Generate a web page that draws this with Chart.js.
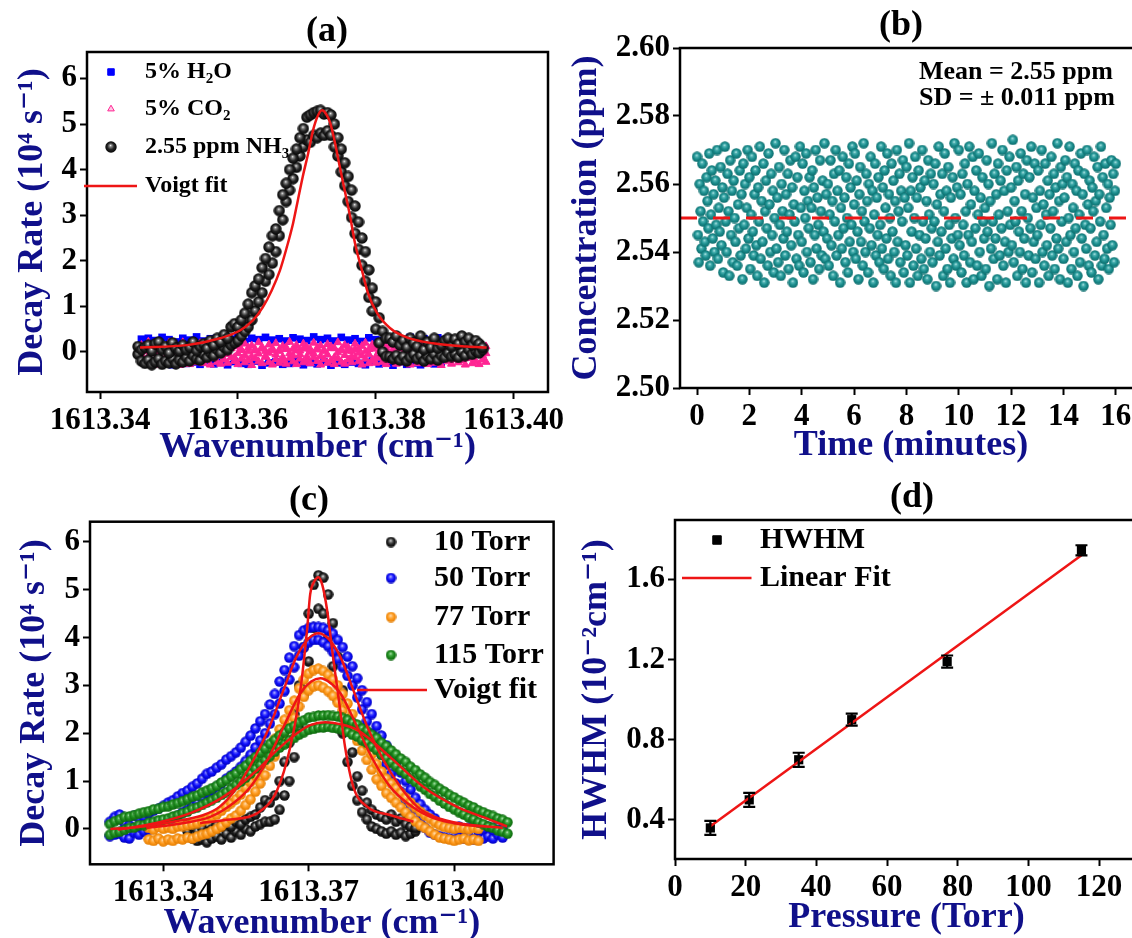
<!DOCTYPE html>
<html>
<head>
<meta charset="utf-8">
<script src="https://cdn.jsdelivr.net/npm/chart.js@4.4.1/dist/chart.umd.min.js"></script>
<style>
  html, body { margin: 0; padding: 0; background: #fff; width: 1132px; height: 938px; overflow: hidden; }
  .panel { position: absolute; }
  canvas { display: block; }
</style>
</head>
<body>
<div class="panel" style="left:0;top:0"><canvas id="chartA" width="566" height="469"></canvas></div>
<div class="panel" style="left:560px;top:0"><canvas id="chartB" width="582" height="469"></canvas></div>
<div class="panel" style="left:0;top:469px"><canvas id="chartC" width="566" height="490"></canvas></div>
<div class="panel" style="left:560px;top:469px"><canvas id="chartD" width="578" height="490"></canvas></div>
<script>
// ---------- (a) NH3 line vs. H2O / CO2 background ----------
const wnA = [
  1613.3455,1613.3460,1613.3465,1613.3470,1613.3475,1613.3480,1613.3485,1613.3490,1613.3495,1613.3500,
  1613.3505,1613.3510,1613.3515,1613.3520,1613.3525,1613.3530,1613.3535,1613.3540,1613.3545,1613.3550,
  1613.3555,1613.3560,1613.3565,1613.3570,1613.3575,1613.3580,1613.3585,1613.3590,1613.3595,1613.3600,
  1613.3605,1613.3610,1613.3615,1613.3620,1613.3625,1613.3630,1613.3635,1613.3640,1613.3645,1613.3650,
  1613.3655,1613.3660,1613.3665,1613.3670,1613.3675,1613.3680,1613.3685,1613.3690,1613.3695,1613.3700,
  1613.3705,1613.3710,1613.3715,1613.3720,1613.3725,1613.3730,1613.3735,1613.3740,1613.3745,1613.3750,
  1613.3755,1613.3760,1613.3765,1613.3770,1613.3775,1613.3780,1613.3785,1613.3790,1613.3795,1613.3800,
  1613.3805,1613.3810,1613.3815,1613.3820,1613.3825,1613.3830,1613.3835,1613.3840,1613.3845,1613.3850,
  1613.3855,1613.3860,1613.3865,1613.3870,1613.3875,1613.3880,1613.3885,1613.3890,1613.3895,1613.3900,
  1613.3905,1613.3910,1613.3915,1613.3920,1613.3925,1613.3930,1613.3935,1613.3940,1613.3945,1613.3950,
  1613.3955,1613.3960
];
// NH3 decay rate (1e4 s^-1), lower and upper edge of the scattered band
const nh3Lo = [
  -0.05,-0.20,-0.25,-0.18,-0.28,-0.22,-0.15,-0.27,-0.20,-0.24,
  -0.15,-0.26,-0.18,-0.22,-0.12,-0.20,-0.08,-0.15,-0.18,-0.05,
  -0.12,-0.02,-0.08,0.05,-0.02,0.10,0.05,0.15,0.20,0.25,
  0.35,0.45,0.55,0.70,0.90,1.10,1.30,1.55,1.70,1.95,
  2.20,2.55,2.90,3.30,3.55,3.80,4.05,4.30,4.50,4.65,
  4.60,4.75,4.70,4.80,4.75,4.85,4.75,4.50,4.30,3.95,
  3.65,3.30,2.95,2.60,2.25,1.90,1.55,1.20,0.90,0.50,
  0.20,0.00,-0.10,-0.10,-0.15,-0.08,-0.18,-0.10,-0.20,-0.12,
  -0.05,-0.15,-0.08,-0.20,-0.10,-0.15,-0.05,-0.18,-0.08,-0.12,
  -0.02,-0.10,-0.05,-0.12,0.00,-0.08,0.05,-0.05,0.02,-0.02,
  0.05,null
];
const nh3Hi = [
  0.12,0.05,0.10,0.15,0.02,0.18,0.22,0.05,0.12,-0.02,
  0.20,0.08,0.02,0.15,0.05,0.10,0.22,0.03,0.12,0.18,
  0.08,0.25,0.15,0.30,0.22,0.38,0.30,0.55,0.62,0.55,
  0.70,0.85,1.05,1.30,1.45,1.60,1.85,2.05,2.30,2.55,
  2.70,3.10,3.45,3.70,4.00,4.25,4.45,4.70,4.90,5.15,
  5.20,5.25,5.28,5.30,5.22,5.25,5.20,5.00,4.70,4.45,
  4.15,3.85,3.55,3.20,2.85,2.50,2.20,1.80,1.40,1.10,
  0.75,0.45,0.30,0.30,0.22,0.35,0.15,0.25,0.10,0.30,
  0.20,0.12,0.35,0.05,0.22,0.10,0.30,0.08,0.15,0.25,
  0.30,0.12,0.28,0.18,0.35,0.22,0.30,0.15,0.25,0.18,
  0.10,null
];
const co2Lo = [
  null,-0.18,-0.25,-0.12,-0.22,-0.28,-0.15,-0.20,-0.26,-0.10,
  -0.24,-0.18,-0.29,-0.14,-0.21,-0.27,-0.16,-0.23,-0.11,-0.25,
  -0.19,-0.28,-0.13,-0.22,-0.26,-0.17,-0.24,-0.12,-0.20,-0.27,
  -0.15,-0.23,-0.18,-0.29,-0.14,-0.21,-0.25,-0.11,-0.22,-0.28,
  -0.16,-0.24,-0.19,-0.26,-0.13,-0.21,-0.27,-0.15,-0.23,-0.18,
  -0.25,-0.12,-0.20,-0.28,-0.16,-0.24,-0.19,-0.27,-0.14,-0.22,
  -0.26,-0.17,-0.23,-0.12,-0.21,-0.28,-0.15,-0.25,-0.18,-0.24,
  -0.13,-0.22,-0.27,-0.16,-0.20,-0.26,-0.14,-0.23,-0.19,-0.28,
  -0.12,-0.25,-0.17,-0.22,-0.27,-0.15,-0.24,-0.18,-0.29,-0.13,
  -0.21,-0.26,-0.16,-0.23,-0.19,-0.28,-0.14,-0.25,-0.20,-0.27,
  -0.17,-0.22
];
const co2Mid = [
  null,-0.05,0.02,-0.10,0.06,-0.03,-0.08,0.04,-0.12,0.00,
  -0.06,0.05,-0.09,0.01,-0.04,0.07,-0.11,-0.02,0.03,-0.07,
  0.06,-0.10,-0.01,0.04,-0.08,0.02,-0.05,0.08,-0.12,-0.03,
  0.05,-0.07,0.01,-0.10,0.03,-0.04,0.07,-0.09,-0.02,0.04,
  -0.06,0.02,-0.11,0.06,-0.03,-0.08,0.03,-0.05,0.07,-0.10,
  0.00,-0.04,0.05,-0.09,0.02,-0.06,0.08,-0.12,-0.01,0.04,
  -0.07,0.03,-0.10,0.06,-0.02,-0.08,0.01,-0.05,0.07,-0.11,
  0.02,-0.04,0.05,-0.09,0.00,-0.06,0.08,-0.03,-0.10,0.04,
  -0.07,0.01,-0.12,0.05,-0.02,-0.08,0.03,-0.05,0.06,-0.10,
  0.00,-0.04,0.07,-0.09,0.02,-0.06,0.04,-0.11,-0.01,0.03,
  -0.07,-0.03
];
const co2Hi = [
  null,0.15,0.05,0.22,0.10,0.02,0.18,0.08,0.12,0.20,
  0.04,0.14,0.09,0.21,0.06,0.16,0.11,0.03,0.19,0.07,
  0.13,0.22,0.05,0.17,0.10,0.01,0.15,0.08,0.20,0.12,
  0.04,0.18,0.09,0.14,0.06,0.21,0.11,0.02,0.16,0.08,
  0.19,0.05,0.13,0.10,0.22,0.07,0.15,0.03,0.18,0.11,
  0.06,0.20,0.09,0.14,0.04,0.17,0.12,0.08,0.21,0.05,
  0.15,0.10,0.02,0.18,0.07,0.13,0.20,0.06,0.16,0.11,
  0.03,0.19,0.09,0.14,0.05,0.17,0.12,0.08,0.21,0.04,
  0.15,0.10,0.18,0.06,0.13,0.02,0.16,0.09,0.20,0.07,
  0.12,0.04,0.17,0.11,0.05,0.14,0.08,0.19,0.03,0.10,
  0.06,0.12
];
const h2oVal = [
  null,0.28,-0.22,0.30,-0.26,0.25,-0.18,0.32,-0.24,0.27,
  -0.28,0.22,-0.20,0.30,-0.25,0.26,-0.22,0.33,-0.27,0.24,
  -0.19,0.29,-0.26,0.31,-0.23,0.25,-0.28,0.28,-0.21,0.34,
  -0.25,0.23,-0.27,0.30,-0.20,0.27,-0.29,0.32,-0.24,0.26,
  -0.22,0.29,-0.27,0.24,-0.25,0.31,-0.20,0.28,-0.28,0.25,
  -0.23,0.33,-0.26,0.27,-0.21,0.30,-0.29,0.24,-0.24,0.32,
  -0.27,0.26,-0.22,0.29,-0.25,0.23,-0.28,0.31,-0.20,0.27,
  -0.26,0.25,-0.23,0.30,-0.29,0.28,-0.21,0.24,-0.27,0.32,
  -0.24,0.26,-0.28,0.29,-0.22,0.25,-0.26,0.31,-0.23,0.27,
  null,null,null,null,null,null,null,null,null,null,
  null,null
];
const fitAW = [1613.3458,1613.3526,1613.3574,1613.3603,1613.3622,1613.3636,1613.3649,1613.3661,1613.3671,1613.3680,
  1613.3687,1613.3694,1613.3702,1613.3709,1613.3716,1613.3722,1613.3728,1613.3734,1613.3741,1613.3748,
  1613.3755,1613.3763,1613.3770,1613.3780,1613.3789,1613.3802,1613.3821,1613.3845,1613.3883,1613.3932,1613.3961];
const fitAV = [0.10,0.15,0.30,0.47,0.70,0.98,1.35,1.79,2.30,2.82,
  3.33,3.84,4.36,4.86,5.18,5.30,5.22,5.02,4.58,4.05,
  3.54,2.96,2.38,1.79,1.28,0.85,0.52,0.32,0.19,0.12,0.10];
const aXTicks = [1613.34, 1613.36, 1613.38, 1613.40];
const aYTicks = [0, 1, 2, 3, 4, 5, 6];

// ---------- (b) concentration over time ----------
const timeSec = [
  0,2,4,6,8,10,12,14,16,18,20,22,24,26,28,30,32,34,36,38,40,42,44,46,48,50,52,54,56,58,
  60,62,64,66,68,70,72,74,76,78,80,82,84,86,88,90,92,94,96,98,100,102,104,106,108,110,112,114,116,118,
  120,122,124,126,128,130,132,134,136,138,140,142,144,146,148,150,152,154,156,158,160,162,164,166,168,170,172,174,176,178,
  180,182,184,186,188,190,192,194,196,198,200,202,204,206,208,210,212,214,216,218,220,222,224,226,228,230,232,234,236,238,
  240,242,244,246,248,250,252,254,256,258,260,262,264,266,268,270,272,274,276,278,280,282,284,286,288,290,292,294,296,298,
  300,302,304,306,308,310,312,314,316,318,320,322,324,326,328,330,332,334,336,338,340,342,344,346,348,350,352,354,356,358,
  360,362,364,366,368,370,372,374,376,378,380,382,384,386,388,390,392,394,396,398,400,402,404,406,408,410,412,414,416,418,
  420,422,424,426,428,430,432,434,436,438,440,442,444,446,448,450,452,454,456,458,460,462,464,466,468,470,472,474,476,478,
  480,482,484,486,488,490,492,494,496,498,500,502,504,506,508,510,512,514,516,518,520,522,524,526,528,530,532,534,536,538,
  540,542,544,546,548,550,552,554,556,558,560,562,564,566,568,570,572,574,576,578,580,582,584,586,588,590,592,594,596,598,
  600,602,604,606,608,610,612,614,616,618,620,622,624,626,628,630,632,634,636,638,640,642,644,646,648,650,652,654,656,658,
  660,662,664,666,668,670,672,674,676,678,680,682,684,686,688,690,692,694,696,698,700,702,704,706,708,710,712,714,716,718,
  720,722,724,726,728,730,732,734,736,738,740,742,744,746,748,750,752,754,756,758,760,762,764,766,768,770,772,774,776,778,
  780,782,784,786,788,790,792,794,796,798,800,802,804,806,808,810,812,814,816,818,820,822,824,826,828,830,832,834,836,838,
  840,842,844,846,848,850,852,854,856,858,860,862,864,866,868,870,872,874,876,878,880,882,884,886,888,890,892,894,896,898,
  900,902,904,906,908,910,912,914,916,918,920,922,924,926,928,930,932,934,936,938,940,942,944,946,948,950,952,954,956,958,
  960
];
// NH3 concentration in ppb
const concPpb = [
  2568,2545,2537,2560,2552,2541,2566,2549,2558,2543,2539,2562,2555,2547,2569,2536,2551,2564,2544,2557,2540,2561,2548,2570,2538,2553,2546,2565,2542,2559,
  2534,2556,2571,2549,2540,2563,2552,2533,2567,2545,2558,2537,2561,2550,2543,2569,2536,2554,2547,2564,2539,2557,2532,2566,2548,2560,2541,2553,2570,2544,
  2562,2535,2551,2568,2546,2539,2557,2564,2542,2533,2559,2549,2571,2538,2555,2543,2566,2531,2552,2561,2547,2536,2569,2554,2540,2563,2545,2558,2534,2550,
  2572,2541,2556,2537,2565,2548,2533,2560,2552,2544,2570,2539,2557,2546,2563,2535,2551,2567,2542,2559,2531,2554,2549,2568,2538,2562,2545,2536,2571,2553,
  2543,2566,2534,2558,2550,2569,2540,2555,2547,2562,2537,2553,2564,2532,2559,2545,2570,2541,2556,2548,2535,2567,2552,2539,2561,2546,2572,2538,2557,2544,
  2560,2536,2551,2567,2542,2555,2533,2563,2549,2570,2539,2558,2545,2564,2531,2553,2541,2568,2547,2556,2537,2562,2550,2534,2566,2543,2559,2548,2571,2540,
  2554,2569,2538,2561,2546,2532,2557,2565,2543,2552,2536,2572,2549,2540,2563,2555,2534,2560,2547,2568,2542,2558,2531,2551,2566,2539,2556,2545,2562,2537,
  2548,2571,2541,2559,2535,2564,2553,2544,2569,2538,2557,2550,2533,2566,2546,2561,2540,2555,2531,2570,2543,2552,2563,2537,2558,2549,2567,2534,2556,2542,
  2565,2539,2553,2572,2531,2558,2546,2562,2536,2550,2568,2541,2556,2533,2564,2545,2559,2538,2570,2549,2535,2561,2544,2555,2532,2567,2551,2540,2563,2547,
  2537,2560,2549,2566,2530,2554,2543,2571,2539,2557,2546,2563,2533,2552,2569,2541,2558,2535,2565,2548,2531,2556,2544,2562,2538,2572,2550,2536,2559,2545,
  2570,2542,2557,2534,2563,2548,2539,2566,2552,2531,2560,2545,2571,2537,2554,2543,2568,2532,2558,2547,2564,2536,2551,2569,2540,2556,2533,2562,2549,2544,
  2553,2535,2567,2546,2560,2530,2555,2541,2572,2549,2538,2563,2544,2557,2532,2566,2551,2539,2561,2547,2570,2536,2558,2543,2531,2564,2552,2540,2568,2548,
  2559,2542,2573,2537,2555,2549,2565,2533,2561,2546,2540,2569,2552,2535,2563,2544,2557,2531,2567,2550,2539,2562,2547,2571,2534,2556,2543,2566,2538,2553,
  2545,2564,2531,2558,2548,2570,2540,2554,2536,2566,2551,2542,2561,2533,2557,2547,2568,2539,2552,2563,2535,2559,2544,2572,2541,2555,2532,2565,2549,2560,
  2538,2556,2567,2543,2562,2531,2550,2571,2545,2535,2560,2553,2540,2566,2547,2558,2533,2564,2551,2537,2569,2544,2557,2530,2563,2548,2541,2570,2554,2536,
  2561,2547,2534,2559,2552,2568,2539,2555,2543,2565,2532,2557,2549,2571,2536,2562,2545,2538,2566,2553,2541,2560,2535,2556,2548,2567,2542,2563,2537,2558,
  2566
];
const meanPpm = 2.55;
const bXTicks = [0, 2, 4, 6, 8, 10, 12, 14, 16];
const bYTicks = [2.50, 2.52, 2.54, 2.56, 2.58, 2.60];

// ---------- (c) pressure broadening ----------
const wnC = [
  1613.329,1613.330,1613.331,1613.332,1613.333,1613.334,1613.335,1613.336,1613.337,1613.338,
  1613.339,1613.340,1613.341,1613.342,1613.343,1613.344,1613.345,1613.346,1613.347,1613.348,
  1613.349,1613.350,1613.351,1613.352,1613.353,1613.354,1613.355,1613.356,1613.357,1613.358,
  1613.359,1613.360,1613.361,1613.362,1613.363,1613.364,1613.365,1613.366,1613.367,1613.368,
  1613.369,1613.370,1613.371,1613.372,1613.373,1613.374,1613.375,1613.376,1613.377,1613.378,
  1613.379,1613.380,1613.381,1613.382,1613.383,1613.384,1613.385,1613.386,1613.387,1613.388,
  1613.389,1613.390,1613.391,1613.392,1613.393,1613.394,1613.395,1613.396,1613.397,1613.398,
  1613.399,1613.400,1613.401,1613.402,1613.403,1613.404,1613.405,1613.406,1613.407,1613.408,
  1613.409,1613.410,1613.411
];
const lo10 = [
  null,null,null,null,null,null,null,null,null,null,
  null,null,null,null,null,null,-0.05,-0.20,-0.25,-0.22,
  -0.28,-0.20,-0.15,-0.22,-0.10,-0.18,-0.05,-0.12,0.00,-0.05,
  0.05,0.10,0.15,0.15,0.20,0.40,0.70,1.00,1.50,2.10,
  2.80,3.50,4.20,4.60,4.50,4.00,3.40,2.70,2.00,1.40,
  0.90,0.60,0.35,0.20,0.05,0.00,-0.05,-0.10,-0.05,-0.12,
  -0.08,-0.15,-0.10,-0.05,null,null,null,null,null,null,
  null,null,null,null,null,null,null,null,null,null,
  null,null,null
];
const hi10 = [
  null,null,null,null,null,null,null,null,null,null,
  null,null,null,null,null,null,0.10,0.05,-0.05,0.02,
  -0.08,0.00,0.08,0.05,0.12,0.05,0.15,0.10,0.20,0.25,
  0.30,0.45,0.60,0.55,0.70,1.00,1.40,1.80,2.40,3.00,
  3.80,4.50,5.10,5.30,5.25,4.90,4.30,3.60,2.90,2.20,
  1.60,1.10,0.80,0.55,0.40,0.30,0.25,0.20,0.30,0.15,
  0.22,0.10,0.05,0.02,null,null,null,null,null,null,
  null,null,null,null,null,null,null,null,null,null,
  null,null,null
];
const lo50 = [
  -0.15,-0.12,-0.10,-0.18,-0.20,-0.08,-0.12,-0.05,-0.02,0.02,
  0.08,0.12,0.15,0.20,0.28,0.35,0.40,0.48,0.55,0.65,
  0.75,0.80,0.88,0.95,1.05,1.12,1.20,1.30,1.42,1.55,
  1.70,1.85,2.00,2.20,2.40,2.62,2.88,3.12,3.38,3.62,
  3.80,3.90,3.95,3.95,3.90,3.82,3.70,3.55,3.38,3.20,
  3.00,2.75,2.50,2.25,2.00,1.75,1.55,1.35,1.15,0.95,
  0.78,0.60,0.42,0.25,0.12,0.02,-0.08,-0.12,-0.15,-0.18,
  -0.20,-0.22,-0.18,-0.20,-0.15,-0.22,-0.18,-0.20,-0.15,-0.20,
  -0.12,-0.18,null
];
const hi50 = [
  0.15,0.25,0.30,0.12,0.08,0.28,0.22,0.25,0.32,0.38,
  0.42,0.48,0.55,0.60,0.68,0.75,0.80,0.88,0.95,1.05,
  1.15,1.20,1.28,1.35,1.45,1.52,1.60,1.70,1.82,1.95,
  2.10,2.25,2.40,2.60,2.82,3.08,3.32,3.58,3.82,4.05,
  4.15,4.20,4.22,4.22,4.20,4.15,4.08,3.95,3.80,3.60,
  3.40,3.15,2.90,2.65,2.40,2.15,1.95,1.75,1.55,1.35,
  1.18,1.00,0.82,0.65,0.52,0.40,0.30,0.22,0.12,0.08,
  0.02,0.00,0.05,-0.02,0.02,0.05,-0.05,0.00,0.05,-0.02,
  0.08,0.00,null
];
const lo77 = [
  null,null,null,null,null,null,null,null,-0.22,-0.25,
  -0.20,-0.26,-0.22,-0.25,-0.20,-0.22,-0.18,-0.20,-0.16,-0.12,
  -0.10,-0.05,0.00,0.06,0.14,0.22,0.28,0.38,0.50,0.62,
  0.78,0.95,1.12,1.32,1.52,1.72,1.92,2.12,2.32,2.56,
  2.76,2.90,2.98,3.00,2.95,2.88,2.78,2.64,2.48,2.28,
  2.05,1.84,1.64,1.44,1.24,1.04,0.90,0.75,0.65,0.55,
  0.45,0.35,0.25,0.16,0.08,0.02,-0.05,-0.12,-0.18,-0.20,
  -0.22,-0.25,-0.22,-0.20,-0.24,-0.22,-0.25,null,null,null,
  null,null,null
];
const hi77 = [
  null,null,null,null,null,null,null,null,0.02,-0.02,
  0.04,0.00,0.03,0.00,0.05,0.06,0.08,0.10,0.12,0.16,
  0.20,0.25,0.30,0.38,0.46,0.54,0.62,0.72,0.86,0.98,
  1.12,1.30,1.48,1.68,1.88,2.08,2.28,2.48,2.68,2.94,
  3.12,3.25,3.32,3.35,3.30,3.22,3.12,3.00,2.82,2.62,
  2.40,2.16,1.96,1.76,1.56,1.36,1.20,1.05,0.95,0.85,
  0.75,0.65,0.55,0.45,0.36,0.28,0.22,0.14,0.08,0.04,
  0.02,0.00,0.02,0.01,-0.01,0.02,0.00,null,null,null,
  null,null,null
];
const lo115 = [
  -0.12,-0.08,-0.06,-0.02,0.02,0.03,0.08,0.08,0.13,0.15,
  0.18,0.20,0.22,0.26,0.29,0.33,0.36,0.42,0.45,0.50,
  0.55,0.60,0.65,0.71,0.77,0.84,0.92,0.99,1.07,1.16,
  1.26,1.34,1.44,1.52,1.61,1.70,1.77,1.85,1.90,1.97,
  2.02,2.07,2.09,2.12,2.12,2.13,2.11,2.10,2.07,2.03,
  1.97,1.93,1.85,1.80,1.72,1.65,1.55,1.48,1.39,1.31,
  1.22,1.15,1.05,0.98,0.89,0.82,0.73,0.67,0.59,0.53,
  0.46,0.41,0.35,0.30,0.24,0.20,0.14,0.10,0.05,0.02,
  -0.03,-0.06,-0.10
];
const hi115 = [
  0.10,0.16,0.20,0.25,0.26,0.29,0.32,0.35,0.37,0.41,
  0.42,0.46,0.47,0.51,0.54,0.58,0.62,0.67,0.70,0.76,
  0.80,0.85,0.90,0.97,1.02,1.10,1.16,1.25,1.32,1.42,
  1.50,1.60,1.68,1.78,1.86,1.95,2.02,2.10,2.15,2.23,
  2.27,2.33,2.34,2.37,2.37,2.38,2.36,2.35,2.32,2.28,
  2.22,2.18,2.10,2.05,1.97,1.90,1.80,1.73,1.64,1.56,
  1.47,1.40,1.30,1.23,1.14,1.07,0.98,0.92,0.84,0.78,
  0.71,0.66,0.60,0.55,0.49,0.45,0.39,0.35,0.30,0.27,
  0.22,0.19,0.14
];
const fit10W = [1613.3476,1613.3532,1613.3594,1613.3635,1613.3662,1613.3682,1613.3697,1613.3703,1613.3712,1613.3720,
  1613.3728,1613.3738,1613.3751,1613.3765,1613.3775,1613.3792,1613.3821,1613.3868,1613.3916];
const fit10V = [0.12,0.19,0.33,0.81,1.71,2.84,4.20,4.90,5.18,5.26,5.10,4.57,3.53,2.48,1.71,0.88,0.46,0.29,0.15];
const fit50W = [1613.3291,1613.3340,1613.3420,1613.3480,1613.3516,1613.3551,1613.3586,1613.3619,1613.3648,1613.3675,1613.3700,
  1613.3720,1613.3740,1613.3765,1613.3792,1613.3821,1613.3854,1613.3889,1613.3924,1613.3960,1613.4020,1613.4100];
const fit50V = [0.00,0.03,0.15,0.28,0.46,0.85,1.44,2.13,2.90,3.60,3.98,4.09,3.98,3.60,2.90,2.13,1.44,0.88,0.46,0.25,0.10,0.02];
const fit77W = [1613.3365,1613.3440,1613.3497,1613.3545,1613.3580,1613.3615,1613.3648,1613.3683,1613.3705,1613.3724,
  1613.3745,1613.3765,1613.3800,1613.3833,1613.3868,1613.3903,1613.3951,1613.4000,1613.4054];
const fit77V = [0.02,0.12,0.25,0.54,0.88,1.44,2.13,2.84,3.08,3.15,3.05,2.84,2.13,1.44,0.88,0.54,0.25,0.12,0.05];
const fit115W = [1613.3307,1613.3388,1613.3456,1613.3524,1613.3594,1613.3635,1613.3676,1613.3703,1613.3734,1613.3765,
  1613.3800,1613.3868,1613.3936,1613.4006,1613.4074,1613.4109];
const fit115V = [-0.02,0.13,0.33,0.67,1.23,1.65,2.00,2.17,2.23,2.19,2.07,1.50,0.88,0.46,0.19,0.05];
const cXTicks = [1613.34, 1613.37, 1613.40];
const cYTicks = [0, 1, 2, 3, 4, 5, 6];

// ---------- (d) HWHM vs pressure ----------
const pressureTorr = [10, 21, 35, 50, 77, 115];
const hwhmVal = [0.36, 0.50, 0.70, 0.90, 1.19, 1.745];
const hwhmErr = [0.035, 0.035, 0.035, 0.03, 0.03, 0.025];
const linFitP = [10, 115];
const linFitV = [0.368, 1.72];
const dXTicks = [0, 20, 40, 60, 80, 100, 120];
const dYTicks = [0.4, 0.8, 1.2, 1.6];

// ---------- helpers ----------
const SERIF = '"Times New Roman", "Liberation Serif", "DejaVu Serif", serif';
const NAVY = '#10108a';
const RED = '#ee1515';
Chart.defaults.font.family = SERIF;
Chart.defaults.font.weight = 'bold';

function pts(xs, ys, scaleX = 1, scaleY = 1) {
  const out = [];
  xs.forEach((x, i) => {
    if (ys[i] === null || ys[i] === undefined) return;
    out.push({ x: x * scaleX, y: ys[i] * scaleY });
  });
  return out;
}

// small shaded sphere used as point style
function makeBall(size, colors) {
  const c = document.createElement('canvas');
  c.width = size; c.height = size;
  const g = c.getContext('2d');
  const r = size / 2;
  const grad = g.createRadialGradient(r * 0.92, r * 0.72, 0, r, r, r);
  grad.addColorStop(0, colors[0]);
  grad.addColorStop(0.2, colors[1]);
  grad.addColorStop(0.55, colors[2]);
  grad.addColorStop(1, colors[3]);
  g.fillStyle = grad;
  g.beginPath();
  g.arc(r, r, r - 0.3, 0, Math.PI * 2);
  g.fill();
  return c;
}

const SUBS = '₀₁₂₃₄₅₆₇₈₉';
const SUPS = '⁰¹²³⁴⁵⁶⁷⁸⁹';
function splitRuns(text) {
  const runs = [];
  for (const ch of text) {
    let kind = 0, t = ch, k;
    if ((k = SUBS.indexOf(ch)) >= 0) { kind = 1; t = String(k); }
    else if ((k = SUPS.indexOf(ch)) >= 0) { kind = 2; t = String(k); }
    else if (ch === '⁻') { kind = 2; t = '-'; }
    const last = runs[runs.length - 1];
    if (last && last.kind === kind) last.t += t; else runs.push({ kind, t });
  }
  return runs;
}
function fillRich(ctx, text, x, y, size) {
  let cx = x;
  splitRuns(text).forEach(r => {
    const s = r.kind ? Math.round(size * 0.62) : size;
    const dy = r.kind === 1 ? size * 0.3 : (r.kind === 2 ? -size * 0.35 : 0);
    ctx.font = `bold ${s}px ${SERIF}`;
    ctx.fillText(r.t, cx, y + dy);
    cx += ctx.measureText(r.t).width;
  });
}

function drawMarker(ctx, ds, x, y) {
  const st = ds.pointStyle;
  if (st instanceof HTMLCanvasElement) {
    ctx.drawImage(st, x - st.width / 2, y - st.height / 2);
    return;
  }
  const r = ds.legendRadius || ds.pointRadius;
  ctx.fillStyle = ds.legendFill || ds.backgroundColor;
  ctx.strokeStyle = ds.borderColor;
  ctx.lineWidth = ds.pointBorderWidth || 1;
  ctx.beginPath();
  if (st === 'triangle') {
    ctx.moveTo(x, y - r); ctx.lineTo(x + r * 0.87, y + r * 0.5); ctx.lineTo(x - r * 0.87, y + r * 0.5); ctx.closePath();
  } else {
    const s = r * Math.SQRT1_2;
    ctx.rect(x - s, y - s, 2 * s, 2 * s);
  }
  ctx.fill(); ctx.stroke();
}

// ---------- plugins ----------
const frame = {
  id: 'frame',
  afterDatasetsDraw(chart) {
    const { ctx, chartArea: a } = chart;
    ctx.save();
    ctx.strokeStyle = '#000';
    ctx.lineWidth = 2.5;
    ctx.strokeRect(a.left, a.top, a.right - a.left, a.bottom - a.top);
    ctx.restore();
  }
};

function panelText(items) {
  return {
    id: 'panelText',
    afterDraw(chart) {
      const ctx = chart.ctx;
      ctx.save();
      ctx.fillStyle = '#000';
      ctx.textBaseline = 'middle';
      items.forEach(it => {
        ctx.textAlign = it.align || 'center';
        ctx.font = `bold ${it.size}px ${SERIF}`;
        ctx.fillText(it.text, it.x, it.y);
      });
      ctx.restore();
    }
  };
}

function insetLegend(cfg) {
  return {
    id: 'insetLegend',
    afterDraw(chart) {
      const ctx = chart.ctx;
      ctx.save();
      ctx.textBaseline = 'middle';
      ctx.textAlign = 'left';
      cfg.rows.forEach((y, i) => {
        const ds = chart.data.datasets[i];
        if (ds.showLine) {
          ctx.strokeStyle = ds.borderColor;
          ctx.lineWidth = ds.borderWidth;
          ctx.beginPath();
          ctx.moveTo(cfg.lineX[0], y);
          ctx.lineTo(cfg.lineX[1], y);
          ctx.stroke();
        } else {
          drawMarker(ctx, ds, cfg.markerX, y);
        }
        ctx.fillStyle = '#000';
        fillRich(ctx, ds.label, cfg.textX, y, cfg.size);
      });
      ctx.restore();
    }
  };
}

function meanLine(value) {
  return {
    id: 'meanLine',
    afterDatasetsDraw(chart) {
      const { ctx, chartArea: a, scales } = chart;
      const y = scales.y.getPixelForValue(value);
      ctx.save();
      ctx.strokeStyle = RED;
      ctx.lineWidth = 3.2;
      ctx.setLineDash([17, 16]);
      ctx.beginPath();
      ctx.moveTo(a.left, y);
      ctx.lineTo(a.right, y);
      ctx.stroke();
      ctx.restore();
    }
  };
}

const errorBars = {
  id: 'errorBars',
  afterDatasetsDraw(chart) {
    const { ctx, scales } = chart;
    chart.data.datasets.forEach((ds, i) => {
      if (!ds.errors) return;
      const meta = chart.getDatasetMeta(i);
      ctx.save();
      ctx.strokeStyle = '#000';
      ctx.lineWidth = 2.2;
      meta.data.forEach((pt, k) => {
        const v = ds.data[k].y, e = ds.errors[k];
        const y1 = scales.y.getPixelForValue(v + e);
        const y2 = scales.y.getPixelForValue(v - e);
        ctx.beginPath();
        ctx.moveTo(pt.x, y1); ctx.lineTo(pt.x, y2);
        ctx.moveTo(pt.x - 6, y1); ctx.lineTo(pt.x + 6, y1);
        ctx.moveTo(pt.x - 6, y2); ctx.lineTo(pt.x + 6, y2);
        ctx.stroke();
      });
      ctx.restore();
    });
  }
};

// ---------- axes / chart factory ----------
function axis(o) {
  return {
    type: 'linear',
    bounds: 'data',
    min: o.min,
    max: o.max,
    afterBuildTicks: s => { s.ticks = o.ticks.map(v => ({ value: v })); },
    afterFit: s => {
      if (s.isHorizontal()) { s.height = o.size; s.paddingLeft = 0; s.paddingRight = 0; }
      else { s.width = o.size; s.paddingTop = 0; s.paddingBottom = 0; }
    },
    grid: { drawOnChartArea: false, drawTicks: true, tickLength: 7, tickWidth: 2, tickColor: '#000' },
    border: { display: false },
    ticks: {
      padding: 3, color: '#000', autoSkip: false, maxRotation: 0,
      font: { size: 31, weight: 'bold' }, callback: o.fmt
    },
    title: {
      display: true, text: o.title, color: NAVY,
      font: { size: 36, weight: 'bold' }, padding: o.titlePad
    }
  };
}

function makeChart(id, datasets, o) {
  return new Chart(document.getElementById(id), {
    type: 'scatter',
    data: { datasets },
    options: {
      responsive: false,
      animation: false,
      events: [],
      layout: { autoPadding: false, padding: o.pad },
      plugins: { legend: { display: false }, tooltip: { enabled: false } },
      scales: { x: axis(o.x), y: axis(o.y) }
    },
    plugins: o.plugins
  });
}

function fitLine(label, xs, ys, order) {
  return {
    label, data: pts(xs, ys), showLine: true, borderColor: RED, borderWidth: 2.5,
    pointRadius: 0, cubicInterpolationMode: 'monotone', order
  };
}

const ballBlack = makeBall(12, ['#ffffff', '#8a8a8a', '#262626', '#000000']);
const ballBlackC = makeBall(11, ['#ffffff', '#8a8a8a', '#262626', '#000000']);
const ballTeal = makeBall(11, ['#e8ffff', '#58b8b8', '#1c8f8f', '#0c6a6a']);
const ballBlue = makeBall(11, ['#ffffff', '#6b6bff', '#1010ff', '#0000b8']);
const ballOrange = makeBall(11, ['#fff4e0', '#ffc070', '#ff9a1c', '#e07a00']);
const ballGreen = makeBall(11, ['#f0fff0', '#5cb85c', '#1e8c1e', '#0c640c']);

// ---------- (a) ----------
makeChart('chartA', [
  { label: '5% H₂O', data: pts(wnA, h2oVal), pointStyle: 'rect', pointRadius: 5.4,
    backgroundColor: '#0000ff', borderColor: '#0000ff', pointBorderWidth: 0, legendRadius: 4.6, order: 3 },
  { label: '5% CO₂', data: pts(wnA, co2Lo).concat(pts(wnA, co2Mid), pts(wnA, co2Hi)), pointStyle: 'triangle', pointRadius: 4.6,
    backgroundColor: '#ff2593', borderColor: '#ff2593', pointBorderWidth: 1, legendRadius: 3.8,
    legendFill: 'rgba(255,37,147,0.25)', order: 2 },
  { label: '2.55 ppm NH₃', data: pts(wnA, nh3Lo).concat(pts(wnA, nh3Hi)), pointStyle: ballBlack, pointRadius: 6, order: 1 },
  fitLine('Voigt fit', fitAW, fitAV, 0)
], {
  pad: { left: 0, top: 52, right: 18, bottom: 0 },
  x: { min: 1613.3381, max: 1613.4050, ticks: aXTicks, size: 77, fmt: v => v.toFixed(2),
       title: 'Wavenumber (cm⁻¹)', titlePad: { top: 0, bottom: 0 } },
  y: { min: -0.878, max: 6.58, ticks: aYTicks, size: 87, fmt: v => String(v),
       title: 'Decay Rate (10⁴ s⁻¹)', titlePad: { top: 11.4, bottom: 0 } },
  plugins: [frame, panelText([{ text: '(a)', x: 327, y: 32, size: 36 }]),
    insetLegend({ rows: [72, 109, 147, 186], markerX: 111, textX: 145, lineX: [84, 137], size: 24 })]
});

// ---------- (b) ----------
makeChart('chartB', [
  { label: 'NH₃ concentration', data: pts(timeSec, concPpb, 1 / 60, 1 / 1000), pointStyle: ballTeal, pointRadius: 5.5 }
], {
  pad: { left: 0, top: 48, right: 0, bottom: 0 },
  x: { min: -0.65, max: 17, ticks: bXTicks, size: 81, fmt: v => String(v),
       title: 'Time (minutes)', titlePad: { top: 0, bottom: 1.4 } },
  y: { min: 2.50, max: 2.60, ticks: bYTicks, size: 120, fmt: v => v.toFixed(2),
       title: 'Concentration (ppm)', titlePad: { top: 5.4, bottom: 0 } },
  plugins: [meanLine(meanPpm), frame,
    panelText([
      { text: '(b)', x: 341, y: 26, size: 36 },
      { text: 'Mean = 2.55 ppm', x: 359, y: 72, size: 26, align: 'left' },
      { text: 'SD = ± 0.011 ppm', x: 359, y: 98, size: 26, align: 'left' }
    ])]
});

// ---------- (c) ----------
makeChart('chartC', [
  { label: '10 Torr', data: pts(wnC, lo10).concat(pts(wnC, hi10)), pointStyle: ballBlackC, pointRadius: 5.5, order: 4 },
  { label: '50 Torr', data: pts(wnC, lo50).concat(pts(wnC, hi50)), pointStyle: ballBlue, pointRadius: 5.5, order: 3 },
  { label: '77 Torr', data: pts(wnC, lo77).concat(pts(wnC, hi77)), pointStyle: ballOrange, pointRadius: 5.5, order: 2 },
  { label: '115 Torr', data: pts(wnC, lo115).concat(pts(wnC, hi115)), pointStyle: ballGreen, pointRadius: 5.5, order: 1 },
  fitLine('Voigt fit', fit10W, fit10V, 0),
  fitLine('Voigt fit 50', fit50W, fit50V, 0),
  fitLine('Voigt fit 77', fit77W, fit77V, 0),
  fitLine('Voigt fit 115', fit115W, fit115V, 0)
], {
  pad: { left: 0, top: 52.7, right: 12.4, bottom: 0 },
  x: { min: 1613.3249, max: 1613.4205, ticks: cXTicks, size: 94.7, fmt: v => v.toFixed(2),
       title: 'Wavenumber (cm⁻¹)', titlePad: { top: 0, bottom: 13.4 } },
  y: { min: -0.74, max: 6.42, ticks: cYTicks, size: 90, fmt: v => String(v),
       title: 'Decay Rate (10⁴ s⁻¹)', titlePad: { top: 13.4, bottom: 0 } },
  plugins: [frame, panelText([{ text: '(c)', x: 309, y: 31.5, size: 36 }]),
    insetLegend({ rows: [73, 109, 148, 186, 221], markerX: 391, textX: 434, lineX: [357, 427], size: 30 })]
});

// ---------- (d) ----------
makeChart('chartD', [
  { label: 'HWHM', data: pts(pressureTorr, hwhmVal), errors: hwhmErr, pointStyle: 'rect', pointRadius: 6.5,
    legendRadius: 6, backgroundColor: '#000', borderColor: '#000', pointBorderWidth: 0, order: 1 },
  { label: 'Linear Fit', data: pts(linFitP, linFitV), showLine: true, borderColor: RED, borderWidth: 2.5,
    pointRadius: 0, order: 0 }
], {
  pad: { left: 0, top: 51, right: 0, bottom: 0 },
  x: { min: 0, max: 131, ticks: dXTicks, size: 100, fmt: v => String(v),
       title: 'Pressure (Torr)', titlePad: { top: 0, bottom: 19.7 } },
  y: { min: 0.205, max: 1.896, ticks: dYTicks, size: 115, fmt: v => v.toFixed(1),
       title: 'HWHM (10⁻²cm⁻¹)', titlePad: { top: 14.9, bottom: 0 } },
  plugins: [frame, errorBars, panelText([{ text: '(d)', x: 352, y: 29, size: 36 }]),
    insetLegend({ rows: [71, 109], markerX: 157, textX: 200, lineX: [122, 191.5], size: 30 })]
});
</script>
</body>
</html>
